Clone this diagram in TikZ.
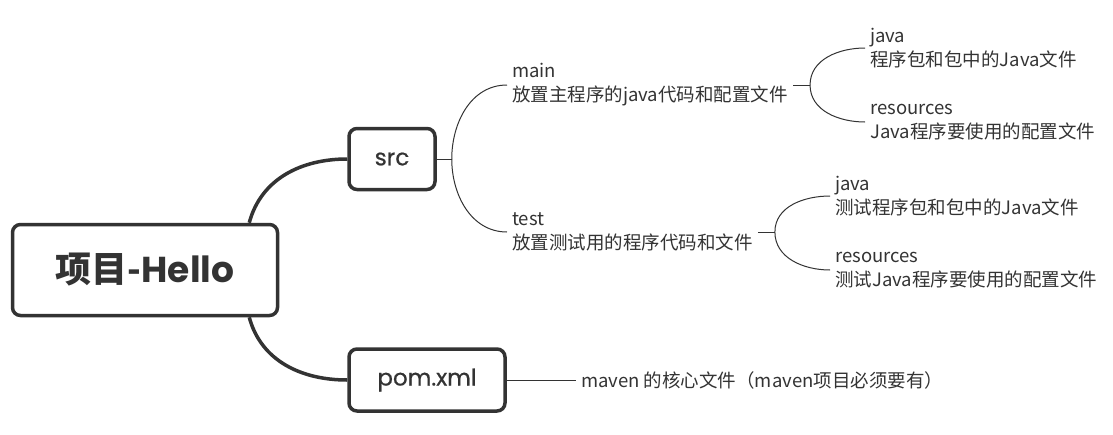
\documentclass[tikz,border=0pt]{standalone}
\usepackage{fontspec}
\setmainfont{Noto Sans CJK SC}
\newfontfamily\boxfont{Poppins}[FakeBold=0.6]
\newfontfamily\rootfont{Poppins}
\usetikzlibrary{positioning}

\begin{document}
\begin{tikzpicture}[x=1pt,y=-1pt]
\tikzset{box/.style={draw=black!80, line width=3.5pt, rounded corners=8pt, fill=white, text=black!80},
	leaf/.style={anchor=west, align=left, inner sep=5pt, text=black!80, font=\fontsize{18.5}{24}\selectfont},
	trunk/.style={draw=black!80, line width=3.5pt},
	twig/.style={draw=black!80, line width=1pt}}
\useasboundingbox (0,0) rectangle (1113,434);
% boxes
\node[box, minimum width=265pt, minimum height=91pt] (root) at (145,270) {\fontsize{36}{36}\selectfont\bfseries 项目-{\rootfont\bfseries Hello}};
\node[box, minimum width=86pt, minimum height=61pt, font=\boxfont\fontsize{23}{23}\selectfont] (src) at (392,159) {src};
\node[box, minimum width=156pt, minimum height=62pt, font=\boxfont\fontsize{23}{23}\selectfont] (pom) at (427,380) {pom.xml};
% leaves
\node[leaf] (main) at (507,85) {main\\放置主程序的java代码和配置文件};
\node[leaf] (test) at (507,232) {test\\放置测试用的程序代码和文件};
\node[leaf] (mainjava) at (865,48) {java\\程序包和包中的Java文件};
\node[leaf] (mainres) at (865,122) {resources\\Java程序要使用的配置文件};
\node[leaf] (testjava) at (830,196) {java\\测试程序包和包中的Java文件};
\node[leaf] (testres) at (830,270) {resources\\测试Java程序要使用的配置文件};
\node[leaf] (pomnote) at (576,380) {maven 的核心文件（maven项目必须要有）};
% links
\draw[trunk] ([xshift=-30pt]root.north east) to[out=75, in=180] (src.west);
\draw[trunk] ([xshift=-30pt]root.south east) to[out=-75, in=180] (pom.west);
\draw[twig] (src.east) -- ++(15,0) coordinate (srcfork);
\draw[twig] (srcfork) to[out=90, in=180] (main.west);
\draw[twig] (srcfork) to[out=-90, in=180] (test.west);
\draw[twig] (main.east) -- ++(17,0) coordinate (mainfork);
\draw[twig] (mainfork) to[out=90, in=180] (mainjava.west);
\draw[twig] (mainfork) to[out=-90, in=180] (mainres.west);
\draw[twig] (test.east) -- ++(17,0) coordinate (testfork);
\draw[twig] (testfork) to[out=90, in=180] (testjava.west);
\draw[twig] (testfork) to[out=-90, in=180] (testres.west);
\draw[twig] (pom.east) -- (pomnote.west);
\end{tikzpicture}
\end{document}
